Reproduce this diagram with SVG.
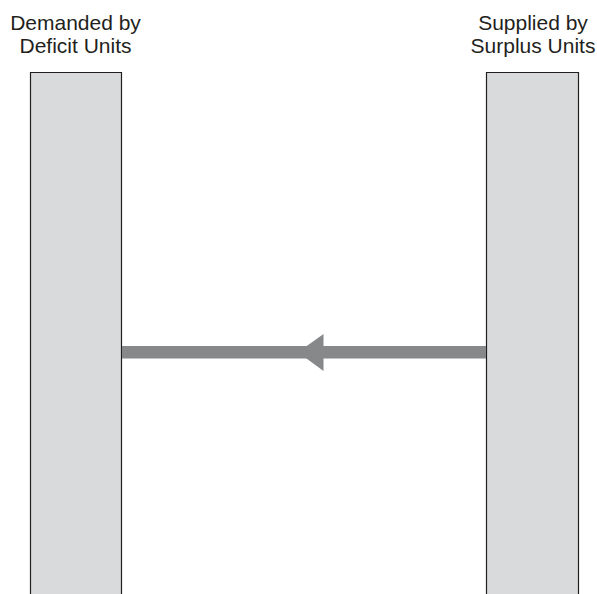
<svg xmlns="http://www.w3.org/2000/svg" width="597" height="594" viewBox="0 0 597 594">
  <style>
    .bar { fill: #d9dadc; stroke: #231f20; stroke-width: 1.2; }
    .label { font-family: "Liberation Sans", Arial, sans-serif; font-size: 21px; fill: #231f20; text-anchor: middle; }
    .flow { fill: #87888a; }
  </style>
  <rect width="597" height="594" fill="#ffffff"/>
  <g id="deficit-units">
    <path class="bar" d="M30.5,595 V72.5 H121.5 V595"/>
    <text class="label" x="75.5" y="30">Demanded by</text>
    <text class="label" x="75.5" y="53">Deficit Units</text>
  </g>
  <g id="surplus-units">
    <path class="bar" d="M486.5,595 V72.5 H578.5 V595"/>
    <text class="label" x="533" y="30">Supplied by</text>
    <text class="label" x="533" y="53">Surplus Units</text>
  </g>
  <g id="connectors">
    <rect class="flow" x="122" y="346" width="364" height="12.5"/>
    <polygon class="flow" points="298,352.3 323.5,334 323.5,371"/>
  </g>
</svg>
